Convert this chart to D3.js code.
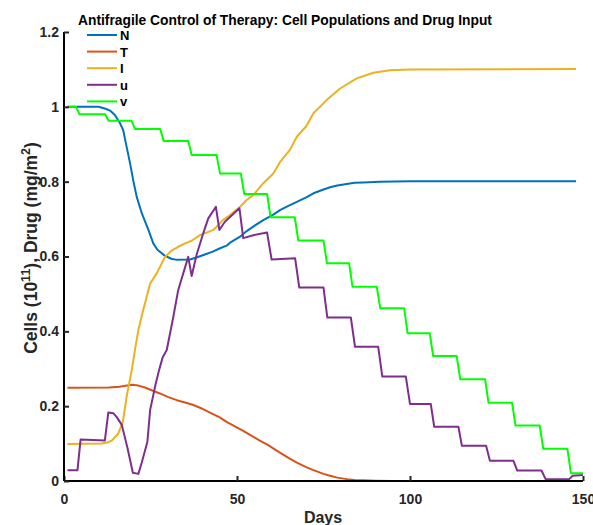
<!DOCTYPE html>
<html><head><meta charset="utf-8">
<script src="https://cdn.jsdelivr.net/npm/d3@7"></script>
<style>body{margin:0;background:#fff}svg{display:block;font-family:"Liberation Sans",Arial,sans-serif}</style>
</head><body><svg id="c" width="593" height="525"></svg>
<script>
const title = "Antifragile Control of Therapy: Cell Populations and Drug Input";
const xTicks = [0, 50, 100, 150];
const yTicks = [0, 0.2, 0.4, 0.6, 0.8, 1, 1.2];
const yTickLabels = ["0", "0.2", "0.4", "0.6", "0.8", "1", "1.2"];
const seriesNames = ["N", "T", "I", "u", "v"];
const seriesColors = ["#0072BD", "#D95319", "#EDB120", "#7E2F8E", "#00FF00"];

const N = [[1,1.0],[10,1.0],[12,0.995],[13.3,0.99],[14.7,0.978],[16.2,0.956],[17.1,0.938],[18.1,0.893],[19.1,0.849],[20,0.804],[21,0.76],[22.5,0.715],[24.4,0.671],[25.8,0.635],[27,0.618],[29,0.603],[31,0.594],[32.6,0.591],[36.4,0.592],[38.5,0.598],[40.3,0.604],[43,0.613],[45.1,0.622],[47,0.629],[48,0.637],[50.9,0.653],[52.8,0.668],[55,0.682],[57.6,0.697],[60.5,0.712],[62.4,0.724],[65,0.736],[67.3,0.746],[70,0.758],[72.1,0.769],[75,0.779],[76.9,0.785],[79,0.79],[81.7,0.794],[84,0.797],[86.5,0.798],[91.3,0.8],[100,0.801],[148,0.801]];
const T = [[1,0.249],[13,0.25],[16,0.252],[19.6,0.257],[21.5,0.255],[23.4,0.25],[25.5,0.242],[27.7,0.234],[30,0.225],[32.6,0.216],[35,0.21],[37.4,0.203],[40,0.193],[42.2,0.183],[45,0.17],[47,0.158],[49,0.148],[51.8,0.134],[54,0.122],[56.6,0.108],[59,0.096],[62.4,0.076],[65,0.061],[67.3,0.049],[70,0.037],[72.1,0.029],[75,0.019],[76.9,0.014],[79,0.009],[81.7,0.005],[84,0.003],[86.5,0.002],[90,0.001],[95,0.0],[150,0.0]];
const I = [[1,0.099],[10.9,0.1],[12.5,0.103],[13.8,0.108],[15.7,0.127],[17,0.158],[18.1,0.225],[19.6,0.297],[20.5,0.35],[21.5,0.404],[22.9,0.457],[24.9,0.528],[26.8,0.555],[29.2,0.599],[31,0.615],[33,0.626],[35,0.635],[36.9,0.642],[39.3,0.657],[41,0.663],[43.2,0.671],[46,0.698],[48,0.711],[50.9,0.733],[52.8,0.751],[54.7,0.764],[57.6,0.796],[60.5,0.822],[62.4,0.852],[65.3,0.885],[67.3,0.92],[70,0.948],[72.1,0.983],[75.9,1.018],[79.8,1.049],[84.6,1.076],[89.4,1.091],[94.2,1.098],[100,1.1],[148,1.101]];
const u = [[1,0.029],[3.9,0.029],[4.8,0.111],[11.8,0.108],[12.8,0.183],[14.3,0.181],[15.3,0.17],[16.7,0.15],[18.3,0.09],[19.9,0.022],[21.5,0.019],[22.5,0.05],[24.1,0.105],[24.9,0.19],[26.5,0.26],[27.5,0.297],[28.5,0.33],[29.7,0.35],[31.6,0.439],[33,0.51],[35.9,0.599],[36.9,0.548],[38.3,0.604],[40,0.655],[41.7,0.702],[43.9,0.733],[44.9,0.671],[46.5,0.693],[50.7,0.729],[51.8,0.649],[54.7,0.657],[58.7,0.664],[60,0.592],[66.8,0.595],[68,0.517],[75,0.517],[76.1,0.437],[82.9,0.437],[84.1,0.359],[90.8,0.359],[92,0.279],[98.8,0.279],[100,0.206],[106,0.206],[107,0.145],[114,0.145],[115,0.094],[122,0.094],[123.1,0.054],[129.9,0.054],[131,0.028],[138,0.028],[139.2,0.005],[146,0.005],[147,0.014],[150,0.016]];
const vStepDays = [1, 4, 12.4, 20, 28.3, 36.4, 44.6, 51.6, 59.2, 67.2, 75.5, 82.9, 90.9, 98.8, 106.2, 114, 122.2, 130, 138, 146];
const vLevels = [1.0, 0.98, 0.963, 0.941, 0.909, 0.871, 0.822, 0.767, 0.705, 0.643, 0.582, 0.519, 0.462, 0.395, 0.334, 0.272, 0.209, 0.148, 0.086, 0.021];
const vEndDay = 150;

// build v polyline (step with ~1 day transitions)
const v = [];
vStepDays.forEach((d, i) => {
  const start = i === 0 ? d : d + 0.5;
  const end = i < vStepDays.length - 1 ? vStepDays[i + 1] - 0.5 : vEndDay;
  v.push([start, vLevels[i]], [end, vLevels[i]]);
});
const allSeries = [N, T, I, u, v];

const svg = d3.select("#c");
const x = d3.scaleLinear().domain([0, 150]).range([64, 583]);
const y = d3.scaleLinear().domain([0, 1.2]).range([481, 32]);

const line = d3.line().x(d => x(d[0])).y(d => y(d[1]));
allSeries.forEach((s, i) => {
  svg.append("path").attr("d", line(s)).attr("fill", "none")
    .attr("stroke", seriesColors[i]).attr("stroke-width", 2).attr("stroke-linejoin", "round");
});

// axes
const xAxis = d3.axisBottom(x).tickValues(xTicks).tickSize(-5).tickPadding(13).tickFormat(d3.format("d"));
const gx = svg.append("g").attr("transform", "translate(0,481)").call(xAxis);
const yAxis = d3.axisLeft(y).tickValues(yTicks).tickSize(-5).tickPadding(5).tickFormat((d, i) => yTickLabels[i]);
const gy = svg.append("g").attr("transform", "translate(64,0)").call(yAxis);
[gx, gy].forEach(g => {
  g.select(".domain").attr("stroke", "#000").attr("stroke-width", 2);
  g.selectAll(".tick line").attr("stroke", "#262626").attr("stroke-width", 2);
  g.selectAll("text").attr("font-size", 14).attr("font-weight", "bold").attr("fill", "#262626")
    .attr("font-family", "Liberation Sans, Arial, sans-serif");
});
gx.select(".domain").attr("d", "M64,0H583");
gy.select(".domain").attr("d", "M0,481V32");

// title
svg.append("text").attr("x", 285).attr("y", 25).attr("text-anchor", "middle")
  .attr("font-size", 13.8).attr("font-weight", "bold").attr("fill", "#000").text(title);

// x label
svg.append("text").attr("x", 323).attr("y", 523).attr("text-anchor", "middle")
  .attr("font-size", 16).attr("font-weight", "bold").attr("fill", "#262626").text("Days");

// y label
const yl = svg.append("text").attr("transform", "translate(37,248) rotate(-90)").attr("text-anchor", "middle")
  .attr("font-size", 17.5).attr("font-weight", "bold").attr("fill", "#262626");
yl.append("tspan").text("Cells (10");
yl.append("tspan").attr("dy", -7).attr("font-size", 12.5).text("11");
yl.append("tspan").attr("dy", 7).text("), Drug (mg/m");
yl.append("tspan").attr("dy", -7).attr("font-size", 12.5).text("2");
yl.append("tspan").attr("dy", 7).text(")");

// legend
const lg = svg.append("g");
seriesNames.forEach((n, i) => {
  const yy = 35 + i * 16.6;
  lg.append("line").attr("x1", 87).attr("x2", 117).attr("y1", yy).attr("y2", yy)
    .attr("stroke", seriesColors[i]).attr("stroke-width", 2);
  lg.append("text").attr("x", 120).attr("y", yy + 5).attr("font-size", 13).attr("font-weight", "bold")
    .attr("fill", "#000").text(n);
});
</script></body></html>
